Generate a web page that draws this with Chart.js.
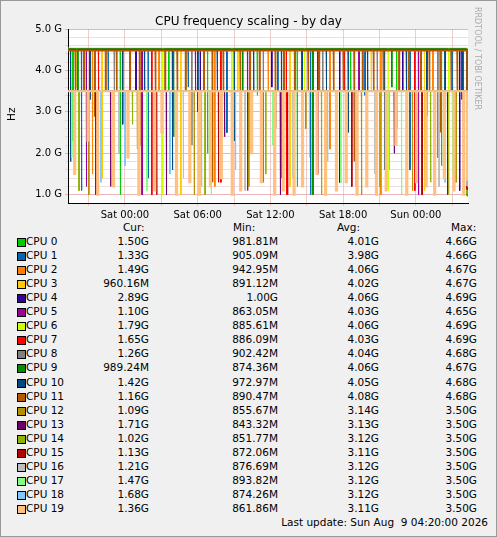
<!DOCTYPE html>
<html><head><meta charset="utf-8">
<script src="https://cdn.jsdelivr.net/npm/chart.js@4/dist/chart.umd.min.js"></script>
<style>
body{margin:0;background:#F0F0F0;font-family:"DejaVu Sans",sans-serif;}
#wrap{position:relative;width:495px;height:535px;border:1px solid #999;background:#F0F0F0;}
#c{position:absolute;left:0;top:0;}
.t{position:absolute;font-size:10.5px;color:#000;white-space:nowrap;}
</style></head><body>
<div id="wrap">
<canvas id="c" width="495" height="220"></canvas>
<div class="t" style="left:0;width:495px;top:13px;text-align:center;font-size:12px">CPU frequency scaling - by day</div>
<div class="t" style="left:4px;transform:rotate(-90deg);transform-origin:left top;top:120px">Hz</div>
<div class="t" style="left:472px;top:6px;writing-mode:vertical-rl;font-size:8px;color:#aaa">RRDTOOL / TOBI OETIKER</div>
<div id="leg"></div>
<div class="t" style="right:8px;top:515px">Last update: Sun Aug &nbsp;9 04:20:00 2026</div>
</div>
<script>
const startHour=-4.7, endHour=28.3;
const xTicks=["Sat 00:00","Sat 06:00","Sat 12:00","Sat 18:00","Sun 00:00"];
const names=["CPU 0","CPU 1","CPU 2","CPU 3","CPU 4","CPU 5","CPU 6","CPU 7","CPU 8","CPU 9","CPU 10","CPU 11","CPU 12","CPU 13","CPU 14","CPU 15","CPU 16","CPU 17","CPU 18","CPU 19"];
const colors=["#00CC00","#0066B3","#FF8000","#FFCC00","#330099","#990099","#CCFF00","#FF0000","#808080","#008F00","#00487D","#B35A00","#B38F00","#6B006B","#8FB300","#B30000","#BEBEBE","#80FF80","#80C9FF","#FFC080"];
const cur=["1.50G","1.33G","1.49G","960.16M","2.89G","1.10G","1.79G","1.65G","1.26G","989.24M","1.42G","1.16G","1.09G","1.71G","1.02G","1.13G","1.21G","1.47G","1.68G","1.36G"];
const mins=["981.81M","905.09M","942.95M","891.12M","1.00G","863.05M","885.61M","886.09M","902.42M","874.36M","972.97M","890.47M","855.67M","843.32M","851.77M","872.06M","876.69M","893.82M","874.26M","861.86M"];
const avgs=["4.01G","3.98G","4.06G","4.02G","4.06G","4.03G","4.06G","4.03G","4.04G","4.06G","4.05G","4.08G","3.14G","3.13G","3.12G","3.11G","3.12G","3.12G","3.12G","3.11G"];
const maxs=["4.66G","4.66G","4.67G","4.67G","4.69G","4.65G","4.69G","4.69G","4.68G","4.67G","4.68G","4.68G","3.50G","3.50G","3.50G","3.50G","3.50G","3.50G","3.50G","3.50G"];
const baseLevel=[4.50,4.49,4.52,4.48,4.53,4.50,4.54,4.51,4.47,4.52,4.49,4.48,3.5,3.5,3.5,3.5,3.5,3.5,3.5,3.5];
const lastVal=[1.50,1.33,1.49,0.96,2.89,1.10,1.79,1.65,1.26,0.99,1.42,1.16,1.09,1.71,1.02,1.13,1.21,1.47,1.68,1.36];
const dipT0=[-4.3,-0.4,3.6,6.8,10.9,14.2,18.6,22.4,26.1];
const dipV0=[2.3,1.0,3.5,2.0,3.4,1.2,3.5,2.6,1.7];
const dipT1=[-3.6,-1.4,1.9,5.2,8.4,12.6,15.3,19.8,23.5,27.0];
const dipV1=[1.1,3.5,1.4,3.6,2.5,3.5,1.0,3.4,1.6,3.5];
const dipT2=[-2.7,2.8,7.4,11.8,16.9,21.1,25.4];
const dipV2=[1.5,3.5,1.2,3.5,2.1,1.0,3.5];
const dipT3=[-1.9,4.6,9.3,13.6,20.3,24.7];
const dipV3=[1.4,1.0,3.5,1.2,3.5,1.1];
const dipT4=[0.9,6.2,12.1,17.7,22.9,27.6];
const dipV4=[3.5,1.0,3.6,1.3,3.5,1.1];
const dipT5=[-3.2,1.4,5.8,10.1,15.9,19.3,24.2];
const dipV5=[1.2,1.0,3.5,1.1,1.5,3.5,1.0];
const dipT6=[-4.0,3.1,8.8,14.8,21.7,26.7];
const dipV6=[3.6,1.0,1.2,3.5,1.1,1.0];
const dipT7=[-2.2,2.2,7.9,13.3,18.1,23.9,27.9];
const dipV7=[3.5,1.0,1.3,1.0,3.5,1.1,1.2];
const dipT8=[-0.9,5.5,11.4,16.3,20.8,25.8];
const dipV8=[3.5,2.2,1.3,3.5,2.7,1.9];
const dipT9=[-3.9,4.0,9.7,15.5,22.0];
const dipV9=[3.5,2.4,3.5,1.0,3.6];
const dipT10=[-4.5,-2.9,-0.2,1.6,3.9,6.0,7.6,9.0,10.6,12.9,14.6,16.6,18.4,20.0,21.4,23.2,24.9,26.4,27.8];
const dipV10=[1.8,3.3,2.7,3.5,1.6,3.0,3.5,2.3,3.5,1.4,3.2,3.5,2.5,3.5,1.6,3.4,2.9,1.9,3.3];
const dipT11=[-4.1,-3.4,-2.5,-1.6,-0.7,0.4,1.2,2.5,3.3,4.3,5.0,6.5,7.2,8.1,9.5,10.3,11.1,12.4,13.1,14.0,15.1,16.0,17.2,18.0,18.9,19.6,20.5,21.3,22.6,23.4,24.4,25.1,26.0,26.9,27.4];
const dipV11=[3.5,3.5,2.9,3.5,3.5,3.5,2.2,3.5,3.5,3.5,3.5,3.5,1.3,3.5,3.5,3.5,3.5,2.6,3.5,3.5,3.5,3.5,3.5,3.5,1.8,3.5,3.5,3.5,3.5,3.5,3.5,3.5,2.5,3.5,3.5];
const dipT12=[-3.0,1.0,5.7,10.2,14.9,19.5,23.7,27.3];
const dipV12=[1.0,2.1,1.0,1.2,2.6,1.0,1.1,1.3];
const dipT13=[-1.2,3.4,8.2,12.8,17.5,22.2,26.6];
const dipV13=[1.2,1.0,2.4,1.0,1.1,2.0,1.0];
const dipT14=[-3.8,0.6,6.6,11.6,16.2,21.0,25.2];
const dipV14=[1.1,2.7,1.0,1.5,1.0,1.2,1.3];
const dipT15=[-2.4,2.6,7.7,13.4,18.7,24.5];
const dipV15=[1.0,1.0,1.3,1.0,1.2,1.0];
const dipT16=[-0.5,4.8,9.9,15.2,20.6,25.9];
const dipV16=[2.0,1.4,1.1,1.9,1.5,1.2];
const dipT17=[-4.4,1.8,7.1,12.2,17.8,22.8,27.0];
const dipV17=[1.9,1.1,1.0,2.2,1.3,1.0,1.5];
const dipT18=[-2.0,0.0,3.7,6.3,9.1,13.8,16.7,19.0,21.8,24.1,26.4];
const dipV18=[1.3,1.7,1.5,1.2,1.6,1.4,1.8,1.2,1.6,1.5,1.3];
const dipT19=[-4.2,-3.1,-2.3,-1.0,0.2,1.1,2.4,3.0,4.2,5.3,6.1,7.0,7.9,8.8,9.5,10.4,11.2,12.3,13.0,13.9,14.6,15.8,16.5,17.4,18.2,19.1,19.9,20.7,21.5,22.3,23.2,24.0,24.8,25.5,26.3,27.1,27.9];
const dipV19=[1.5,2.3,1.0,1.2,1.9,1.0,1.1,2.5,1.0,1.3,1.0,1.2,1.4,1.0,1.1,2.0,1.3,1.0,1.1,1.0,1.2,1.5,1.0,1.1,1.3,1.0,1.2,1.0,1.1,2.2,1.0,1.3,1.2,1.0,1.4,1.1,1.0];
const dipTs=[dipT0,dipT1,dipT2,dipT3,dipT4,dipT5,dipT6,dipT7,dipT8,dipT9,dipT10,dipT11,dipT12,dipT13,dipT14,dipT15,dipT16,dipT17,dipT18,dipT19];
const dipVs=[dipV0,dipV1,dipV2,dipV3,dipV4,dipV5,dipV6,dipV7,dipV8,dipV9,dipV10,dipV11,dipV12,dipV13,dipV14,dipV15,dipV16,dipV17,dipV18,dipV19];
const sample=5/60;
function build(k){const b=baseLevel[k];const w=k===19?sample*1.2:sample*0.5;const p=[{x:startHour,y:b}];
 dipTs[k].forEach((t,i)=>{const v=dipVs[k][i];p.push({x:t,y:b},{x:t,y:v},{x:t+w,y:v},{x:t+w,y:b});});
 p.push({x:endHour-sample,y:b},{x:endHour-sample,y:lastVal[k]},{x:endHour,y:lastVal[k]});return p;}
const widths=[1,1,1,1,1,1,1,1,1,1,1,1.6,1,1,1,1,1,1,1,2];
const datasets=names.map((n,k)=>({label:n,data:build(k),borderColor:colors[k],borderWidth:widths[k],pointRadius:0,fill:false,tension:0,order:20-k}));
new Chart(document.getElementById('c'),{type:'line',data:{datasets},
options:{responsive:false,animation:false,plugins:{legend:{display:false},tooltip:{enabled:false}},
 layout:{padding:{left:0,right:28,top:28,bottom:0}},
 scales:{
  x:{type:'linear',min:startHour,max:endHour,afterFit:s=>{s.height=18},
     ticks:{autoSkip:false,maxRotation:0,color:'#000',font:{size:10,family:'DejaVu Sans'},
       callback:v=>(v%6===0&&v>=0&&v/6<xTicks.length)?xTicks[v/6]:''},
     afterBuildTicks:s=>{s.ticks=[];for(let v=-3;v<=27;v+=3)s.ticks.push({value:v});},
     grid:{color:'rgba(225,170,170,0.6)',tickLength:3},border:{color:'#000'}},
  y:{min:0.8,max:5.0,afterFit:s=>{s.width=67},
     afterBuildTicks:s=>{s.ticks=[];for(let v=10;v<=50;v+=2)s.ticks.push({value:v/10});},
     ticks:{autoSkip:false,color:'#000',font:{size:10,family:'DejaVu Sans'},callback:v=>Math.abs(v-Math.round(v))<1e-6?v.toFixed(1)+' G':''},
     grid:{color:c=>(c.tick&&Math.abs(c.tick.value-Math.round(c.tick.value))<1e-6)?'rgba(225,150,150,0.7)':'rgba(225,190,190,0.5)',tickLength:3},border:{color:'#000'}}
 }},
 plugins:[{id:'bg',beforeDraw(ch){const {ctx,chartArea:a}=ch;ctx.save();ctx.fillStyle='#fff';ctx.fillRect(a.left,a.top,a.right-a.left,a.bottom-a.top);ctx.restore();}}]
});
const leg=document.getElementById('leg');
let h='<div class="t" style="left:122px;top:220px">Cur:</div><div class="t" style="left:232px;top:220px">Min:</div><div class="t" style="left:336px;top:220px">Avg:</div><div class="t" style="left:450px;top:220px">Max:</div>';
names.forEach((n,k)=>{const y=234+k*14.05;
 h+=`<div style="position:absolute;left:16px;top:${y+3}px;width:7px;height:7px;background:${colors[k]};border:1px solid #000"></div>`;
 h+=`<div class="t" style="left:25px;top:${y}px">${n}</div>`;
 h+=`<div class="t" style="right:347px;top:${y}px">${cur[k]}</div>`;
 h+=`<div class="t" style="right:218px;top:${y}px">${mins[k]}</div>`;
 h+=`<div class="t" style="right:117px;top:${y}px">${avgs[k]}</div>`;
 h+=`<div class="t" style="right:19px;top:${y}px">${maxs[k]}</div>`;});
leg.innerHTML=h;
</script></body></html>
